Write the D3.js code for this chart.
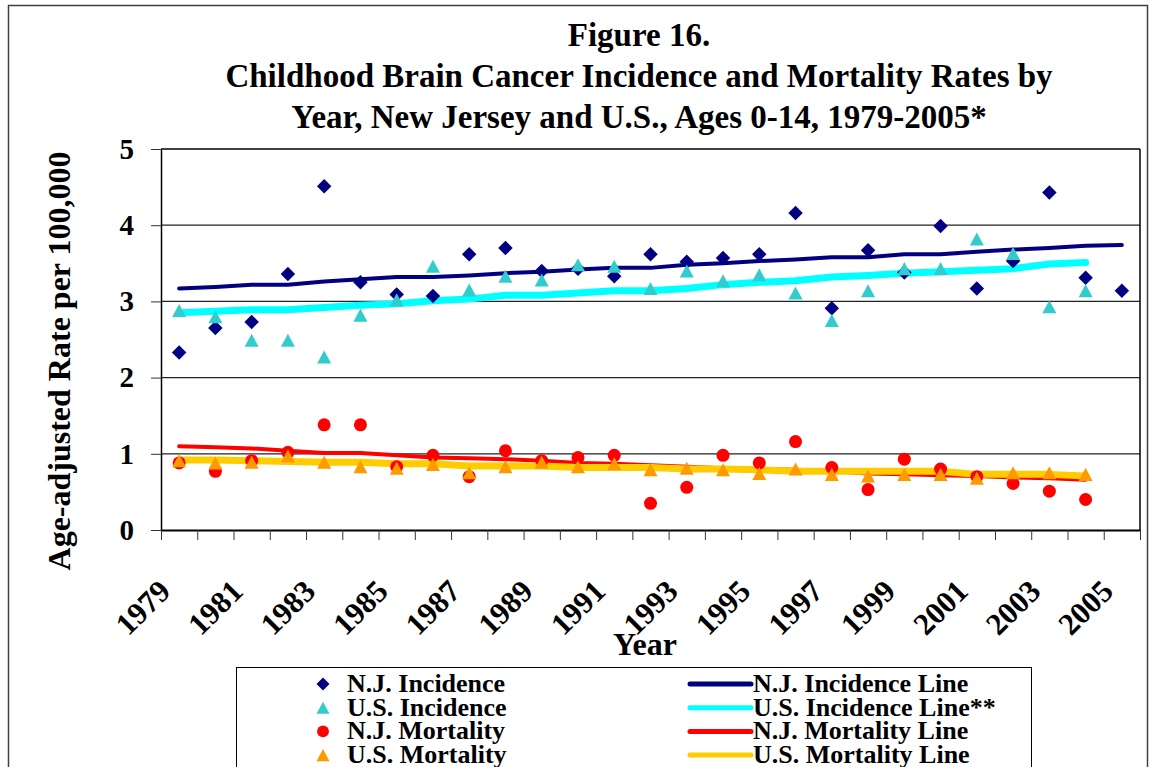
<!DOCTYPE html>
<html>
<head>
<meta charset="utf-8">
<script src="https://cdn.jsdelivr.net/npm/d3@7"></script>
<style>
  body { margin: 0; background: #fff; }
  svg text { font-family: "Liberation Serif", "Times New Roman", serif; font-weight: bold; }
</style>
</head>
<body>
<svg id="chart"></svg>
<script>
// chart size and plot box (matches the excel export)
const width = 1150;
const height = 767;
const plotLeft = 161, plotRight = 1140, plotTop = 149, plotBottom = 530;
const font = "Liberation Serif, Times New Roman, serif";

// data
const years = ["1979","1980","1981","1982","1983","1984","1985","1986","1987","1988","1989","1990","1991",
  "1992","1993","1994","1995","1996","1997","1998","1999","2000","2001","2002","2003","2004","2005"];
const yearLabels = ["1979","1981","1983","1985","1987","1989","1991","1993","1995","1997","1999","2001","2003","2005"];
const yTicks = [0, 1, 2, 3, 4, 5];

const njIncidence = [2.33,2.65,2.73,3.36,4.51,3.25,3.09,3.07,3.62,3.70,3.40,3.43,3.33,3.62,3.52,3.57,3.62,4.16,2.91,3.67,3.38,3.99,3.17,3.53,4.43,3.31,3.14];
const usIncidence = [2.88,2.80,2.49,2.49,2.27,2.82,3.02,3.46,3.15,3.33,3.28,3.48,3.46,3.17,3.40,3.27,3.35,3.11,2.75,3.14,3.43,3.43,3.82,3.63,2.93,3.14,null];
const njMortality = [0.88,0.77,0.91,1.02,1.38,1.38,0.83,0.98,0.70,1.04,0.91,0.95,0.98,0.35,0.56,0.98,0.88,1.16,0.82,0.53,0.93,0.80,0.70,0.61,0.51,0.40,null];
const usMortality = [0.91,0.88,0.89,0.97,0.89,0.83,0.81,0.86,0.75,0.83,0.89,0.83,0.87,0.79,0.81,0.79,0.74,0.80,0.73,0.71,0.73,0.73,0.68,0.75,0.75,0.73,null];

const njIncidenceLine = [3.17,3.19,3.22,3.22,3.26,3.29,3.32,3.32,3.34,3.37,3.39,3.42,3.44,3.44,3.48,3.50,3.53,3.55,3.58,3.58,3.62,3.62,3.65,3.68,3.70,3.73,3.74];
const usIncidenceLine = [2.85,2.87,2.89,2.89,2.92,2.95,2.97,3.01,3.03,3.08,3.08,3.11,3.14,3.14,3.17,3.22,3.25,3.27,3.32,3.34,3.37,3.39,3.41,3.43,3.49,3.51,null];
const njMortalityLine = [1.10,1.085,1.07,1.04,1.01,1.01,0.98,0.95,0.94,0.93,0.91,0.88,0.87,0.85,0.83,0.81,0.80,0.79,0.77,0.74,0.73,0.72,0.71,0.69,0.68,0.66,null];
const usMortalityLine = [0.92,0.92,0.91,0.90,0.89,0.89,0.87,0.87,0.84,0.84,0.84,0.82,0.82,0.82,0.80,0.80,0.79,0.77,0.77,0.77,0.77,0.77,0.73,0.73,0.73,0.71,null];

const titleLines = ["Figure 16.",
  "Childhood Brain Cancer Incidence and Mortality Rates by",
  "Year, New Jersey and U.S., Ages 0-14, 1979-2005*"];

// excel style markers (sized by width)
const diamondMark = { draw(ctx, size) { const r = Math.sqrt(size) / 2;
  ctx.moveTo(0, -r); ctx.lineTo(r, 0); ctx.lineTo(0, r); ctx.lineTo(-r, 0); ctx.closePath(); } };
const triangleMark = { draw(ctx, size) { const w = Math.sqrt(size), h = w * 0.93;
  ctx.moveTo(0, -h / 2); ctx.lineTo(w / 2, h / 2); ctx.lineTo(-w / 2, h / 2); ctx.closePath(); } };
const circleMark = d3.symbolCircle;

const markerSeries = [
  { name: "N.J. Incidence", values: njIncidence, type: diamondMark, size: 210, color: "#000080" },
  { name: "U.S. Incidence", values: usIncidence, type: triangleMark, size: 196, color: "#33CCCC" },
  { name: "N.J. Mortality", values: njMortality, type: circleMark, size: 133, color: "#FF0000" },
  { name: "U.S. Mortality", values: usMortality, type: triangleMark, size: 196, color: "#FF9900" }
];
const lineSeries = [
  { name: "N.J. Incidence Line", values: njIncidenceLine, color: "#000080", w: 4 },
  { name: "U.S. Incidence Line**", values: usIncidenceLine, color: "#00FFFF", w: 7 },
  { name: "N.J. Mortality Line", values: njMortalityLine, color: "#FF0000", w: 4 },
  { name: "U.S. Mortality Line", values: usMortalityLine, color: "#FFCC00", w: 7 }
];

let svg = d3.select("#chart").attr("width", width).attr("height", height);
svg.append("rect").attr("width", width).attr("height", height).attr("fill", "#fff");

// outer chart border
svg.append("rect")
  .attr("x", 8.5).attr("y", 5.5).attr("width", 1139).attr("height", 800)
  .attr("fill", "none").attr("stroke", "#404040").attr("stroke-width", 1.5);

// scales
let xScale = d3.scaleBand().domain(years).range([plotLeft, plotRight]).padding(0);
let xEdge = d3.scaleLinear().domain([0, years.length]).range([plotLeft, plotRight]);
let yScale = d3.scaleLinear().domain([0, 5]).range([plotBottom, plotTop]);
const cx = i => xScale(years[i]) + xScale.bandwidth() / 2;

// gridlines
svg.append("g").selectAll("line")
  .data(yTicks.filter(d => d > 0))
  .enter().append("line")
  .attr("x1", plotLeft).attr("x2", plotRight)
  .attr("y1", d => yScale(d)).attr("y2", d => yScale(d))
  .attr("stroke", d => d === 5 ? "#404040" : "#222")
  .attr("stroke-width", d => d === 5 ? 2 : 1.2);

// right border of plot area
svg.append("line")
  .attr("x1", plotRight).attr("x2", plotRight)
  .attr("y1", yScale(5)).attr("y2", yScale(0))
  .attr("stroke", "#000").attr("stroke-width", 1.5);

// y axis
let yAxis = svg.append("g")
  .attr("transform", `translate(${plotLeft},0)`)
  .call(d3.axisLeft(yScale).tickValues(yTicks).tickSize(10).tickSizeOuter(0).tickPadding(17).tickFormat(d3.format("d")));
yAxis.select(".domain").attr("stroke", "#000").attr("stroke-width", 1.5);
yAxis.selectAll(".tick line").attr("stroke", "#333");
yAxis.selectAll("text").style("font-size", "29px").style("font-family", font).style("font-weight", "bold").attr("fill", "#000");

// x axis: ticks on the category edges
let xAxis = svg.append("g")
  .attr("transform", `translate(0,${plotBottom})`)
  .call(d3.axisBottom(xEdge).tickValues(d3.range(years.length + 1)).tickSize(10).tickSizeOuter(0).tickFormat(""));
xAxis.select(".domain").attr("stroke", "#000").attr("stroke-width", 2);
xAxis.selectAll(".tick line").attr("stroke", "#333");

// rotated year labels, every other year
svg.append("g").selectAll("text")
  .data(yearLabels)
  .enter().append("text")
  .attr("transform", d => `translate(${xScale(d) + xScale.bandwidth() / 2 - 7},593) rotate(-45)`)
  .attr("text-anchor", "end")
  .style("font-size", "31px")
  .text(d => d);

// axis titles
svg.append("text")
  .attr("x", 645).attr("y", 655)
  .attr("text-anchor", "middle")
  .style("font-size", "32px")
  .text("Year");
svg.append("text")
  .attr("transform", "translate(70,361) rotate(-90)")
  .attr("text-anchor", "middle")
  .style("font-size", "32px")
  .text("Age-adjusted Rate per 100,000");

// title
svg.append("g").selectAll("text")
  .data(titleLines)
  .enter().append("text")
  .attr("x", 639)
  .attr("y", (d, i) => 46 + i * 41)
  .attr("text-anchor", "middle")
  .style("font-size", "33px")
  .text(d => d);

// trend lines
let line = d3.line()
  .defined(d => d != null)
  .x((d, i) => cx(i))
  .y(d => yScale(d));
svg.append("g").selectAll("path")
  .data(lineSeries)
  .enter().append("path")
  .attr("d", d => line(d.values))
  .attr("fill", "none")
  .attr("stroke", d => d.color)
  .attr("stroke-width", d => d.w)
  .attr("stroke-linejoin", "round")
  .attr("stroke-linecap", "round");

// markers
markerSeries.forEach(function(s) {
  svg.append("g").selectAll("path")
    .data(s.values.map((v, i) => ({ v: v, i: i })).filter(d => d.v != null))
    .enter().append("path")
    .attr("transform", d => `translate(${cx(d.i)},${yScale(d.v)})`)
    .attr("d", d3.symbol().type(s.type).size(s.size))
    .attr("fill", s.color);
});

// legend
let legend = svg.append("g");
legend.append("rect")
  .attr("x", 236.5).attr("y", 667.5).attr("width", 795).attr("height", 140)
  .attr("fill", "#fff").attr("stroke", "#000").attr("stroke-width", 1);
const rowY = i => 684 + i * 23.7;
markerSeries.forEach(function(s, i) {
  legend.append("path")
    .attr("transform", `translate(323,${rowY(i)})`)
    .attr("d", d3.symbol().type(s.type).size(s.type === circleMark ? 110 : 170))
    .attr("fill", s.color);
  legend.append("text")
    .attr("x", 347).attr("y", rowY(i) + 8)
    .style("font-size", "26px")
    .text(s.name);
});
lineSeries.forEach(function(s, i) {
  legend.append("line")
    .attr("x1", 690).attr("x2", 751)
    .attr("y1", rowY(i)).attr("y2", rowY(i))
    .attr("stroke", s.color).attr("stroke-width", 5).attr("stroke-linecap", "round");
  legend.append("text")
    .attr("x", 753).attr("y", rowY(i) + 8)
    .style("font-size", "26px")
    .text(s.name);
});
</script>
</body>
</html>
